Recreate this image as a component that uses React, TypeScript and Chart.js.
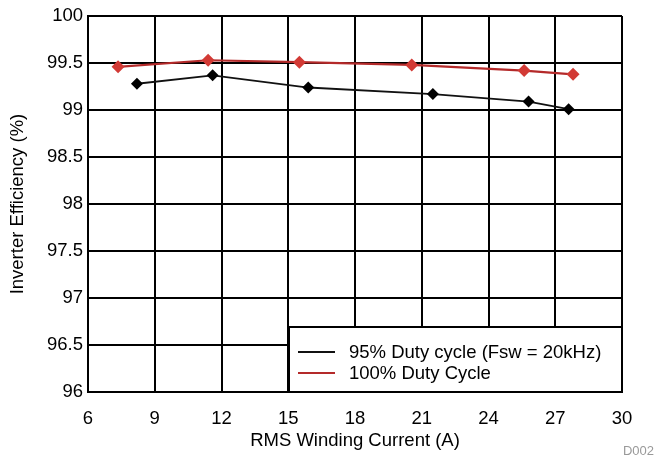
import React, { useEffect, useRef } from "react";
import { Chart, registerables } from "chart.js";

Chart.register(...registerables);

const seriesLabels = ["95% Duty cycle (Fsw = 20kHz)", "100% Duty Cycle"];
const dutyX95 = [8.2, 11.6, 15.9, 21.5, 25.8, 27.6];
const dutyY95 = [99.28, 99.37, 99.24, 99.17, 99.09, 99.01];
const dutyX100 = [7.35, 11.4, 15.5, 20.55, 25.6, 27.8];
const dutyY100 = [99.46, 99.53, 99.51, 99.48, 99.42, 99.38];
const xTitle = "RMS Winding Current (A)";
const yTitle = "Inverter Efficiency (%)";
const footnote = "D002";

const FONT = "'Liberation Sans', Arial, sans-serif";
const FS = 18.5;

const legendPlugin = {
  id: "boxLegend",
  afterDatasetsDraw(chart: any) {
    const { ctx, chartArea } = chart;
    const x0 = 289, y0 = 327, x1 = chartArea.right, y1 = chartArea.bottom;
    ctx.save();
    ctx.fillStyle = "#ffffff";
    ctx.fillRect(x0, y0, x1 - x0, y1 - y0);
    ctx.strokeStyle = "#000";
    ctx.lineWidth = 2;
    ctx.strokeRect(x0, y0, x1 - x0, y1 - y0);
    ctx.font = `${FS}px ${FONT}`;
    ctx.textBaseline = "middle";
    chart.data.datasets.forEach((ds: any, i: number) => {
      const y = 352 + i * 21;
      ctx.strokeStyle = ds.borderColor;
      ctx.lineWidth = 2;
      ctx.beginPath();
      ctx.moveTo(298, y);
      ctx.lineTo(335, y);
      ctx.stroke();
      ctx.fillStyle = "#000";
      ctx.fillText(ds.label, 349, y + 1);
    });
    ctx.font = `13px ${FONT}`;
    ctx.fillStyle = "#999";
    ctx.textAlign = "right";
    ctx.fillText(footnote, 654, 451);
    ctx.restore();
  },
};

export default function App() {
  const ref = useRef<HTMLCanvasElement>(null);
  useEffect(() => {
    const chart = new Chart(ref.current!, {
      type: "scatter",
      data: {
        datasets: [
          {
            label: seriesLabels[0],
            data: dutyX95.map((x, i) => ({ x, y: dutyY95[i] })),
            showLine: true,
            borderColor: "#111111",
            backgroundColor: "#000000",
            borderWidth: 1.8,
            pointStyle: "rectRot",
            pointRadius: 6,
            pointBorderWidth: 0,
          },
          {
            label: seriesLabels[1],
            data: dutyX100.map((x, i) => ({ x, y: dutyY100[i] })),
            showLine: true,
            borderColor: "#b42a2a",
            backgroundColor: "#d23a35",
            borderWidth: 2.2,
            pointStyle: "rectRot",
            pointRadius: 6.5,
            pointBorderWidth: 0,
          },
        ],
      },
      options: {
        animation: false,
        responsive: false,
        maintainAspectRatio: false,
        layout: { padding: { left: 0, top: 15, right: 34, bottom: 0 } },
        plugins: { legend: { display: false }, tooltip: { enabled: false } },
        scales: {
          x: {
            type: "linear",
            min: 6,
            max: 30,
            afterFit: (s: any) => { s.height = 66; },
            ticks: { stepSize: 3, color: "#000", font: { family: FONT, size: FS }, padding: 16 },
            grid: { color: "#000", lineWidth: 2, drawTicks: false },
            border: { color: "#000", width: 2 },
            title: { display: true, text: xTitle, color: "#000", font: { family: FONT, size: FS }, padding: { top: 0, bottom: 6 } },
          },
          y: {
            min: 96,
            max: 100,
            afterFit: (s: any) => { s.width = 88; },
            ticks: {
              stepSize: 0.5,
              color: "#000",
              font: { family: FONT, size: FS },
              padding: 5,
              callback: (v: any) => String(Number(v)),
            },
            grid: { color: "#000", lineWidth: 2, drawTicks: false },
            border: { color: "#000", width: 2 },
            title: { display: true, text: yTitle, color: "#000", font: { family: FONT, size: FS }, padding: { top: 7, bottom: 0 } },
          },
        },
      },
      plugins: [legendPlugin],
    });
    return () => chart.destroy();
  }, []);
  return (
    <div style={{ position: "fixed", left: 0, top: 0, width: 656, height: 458, background: "#fff" }}>
      <canvas ref={ref} width={656} height={458} style={{ width: 656, height: 458 }} />
    </div>
  );
}
